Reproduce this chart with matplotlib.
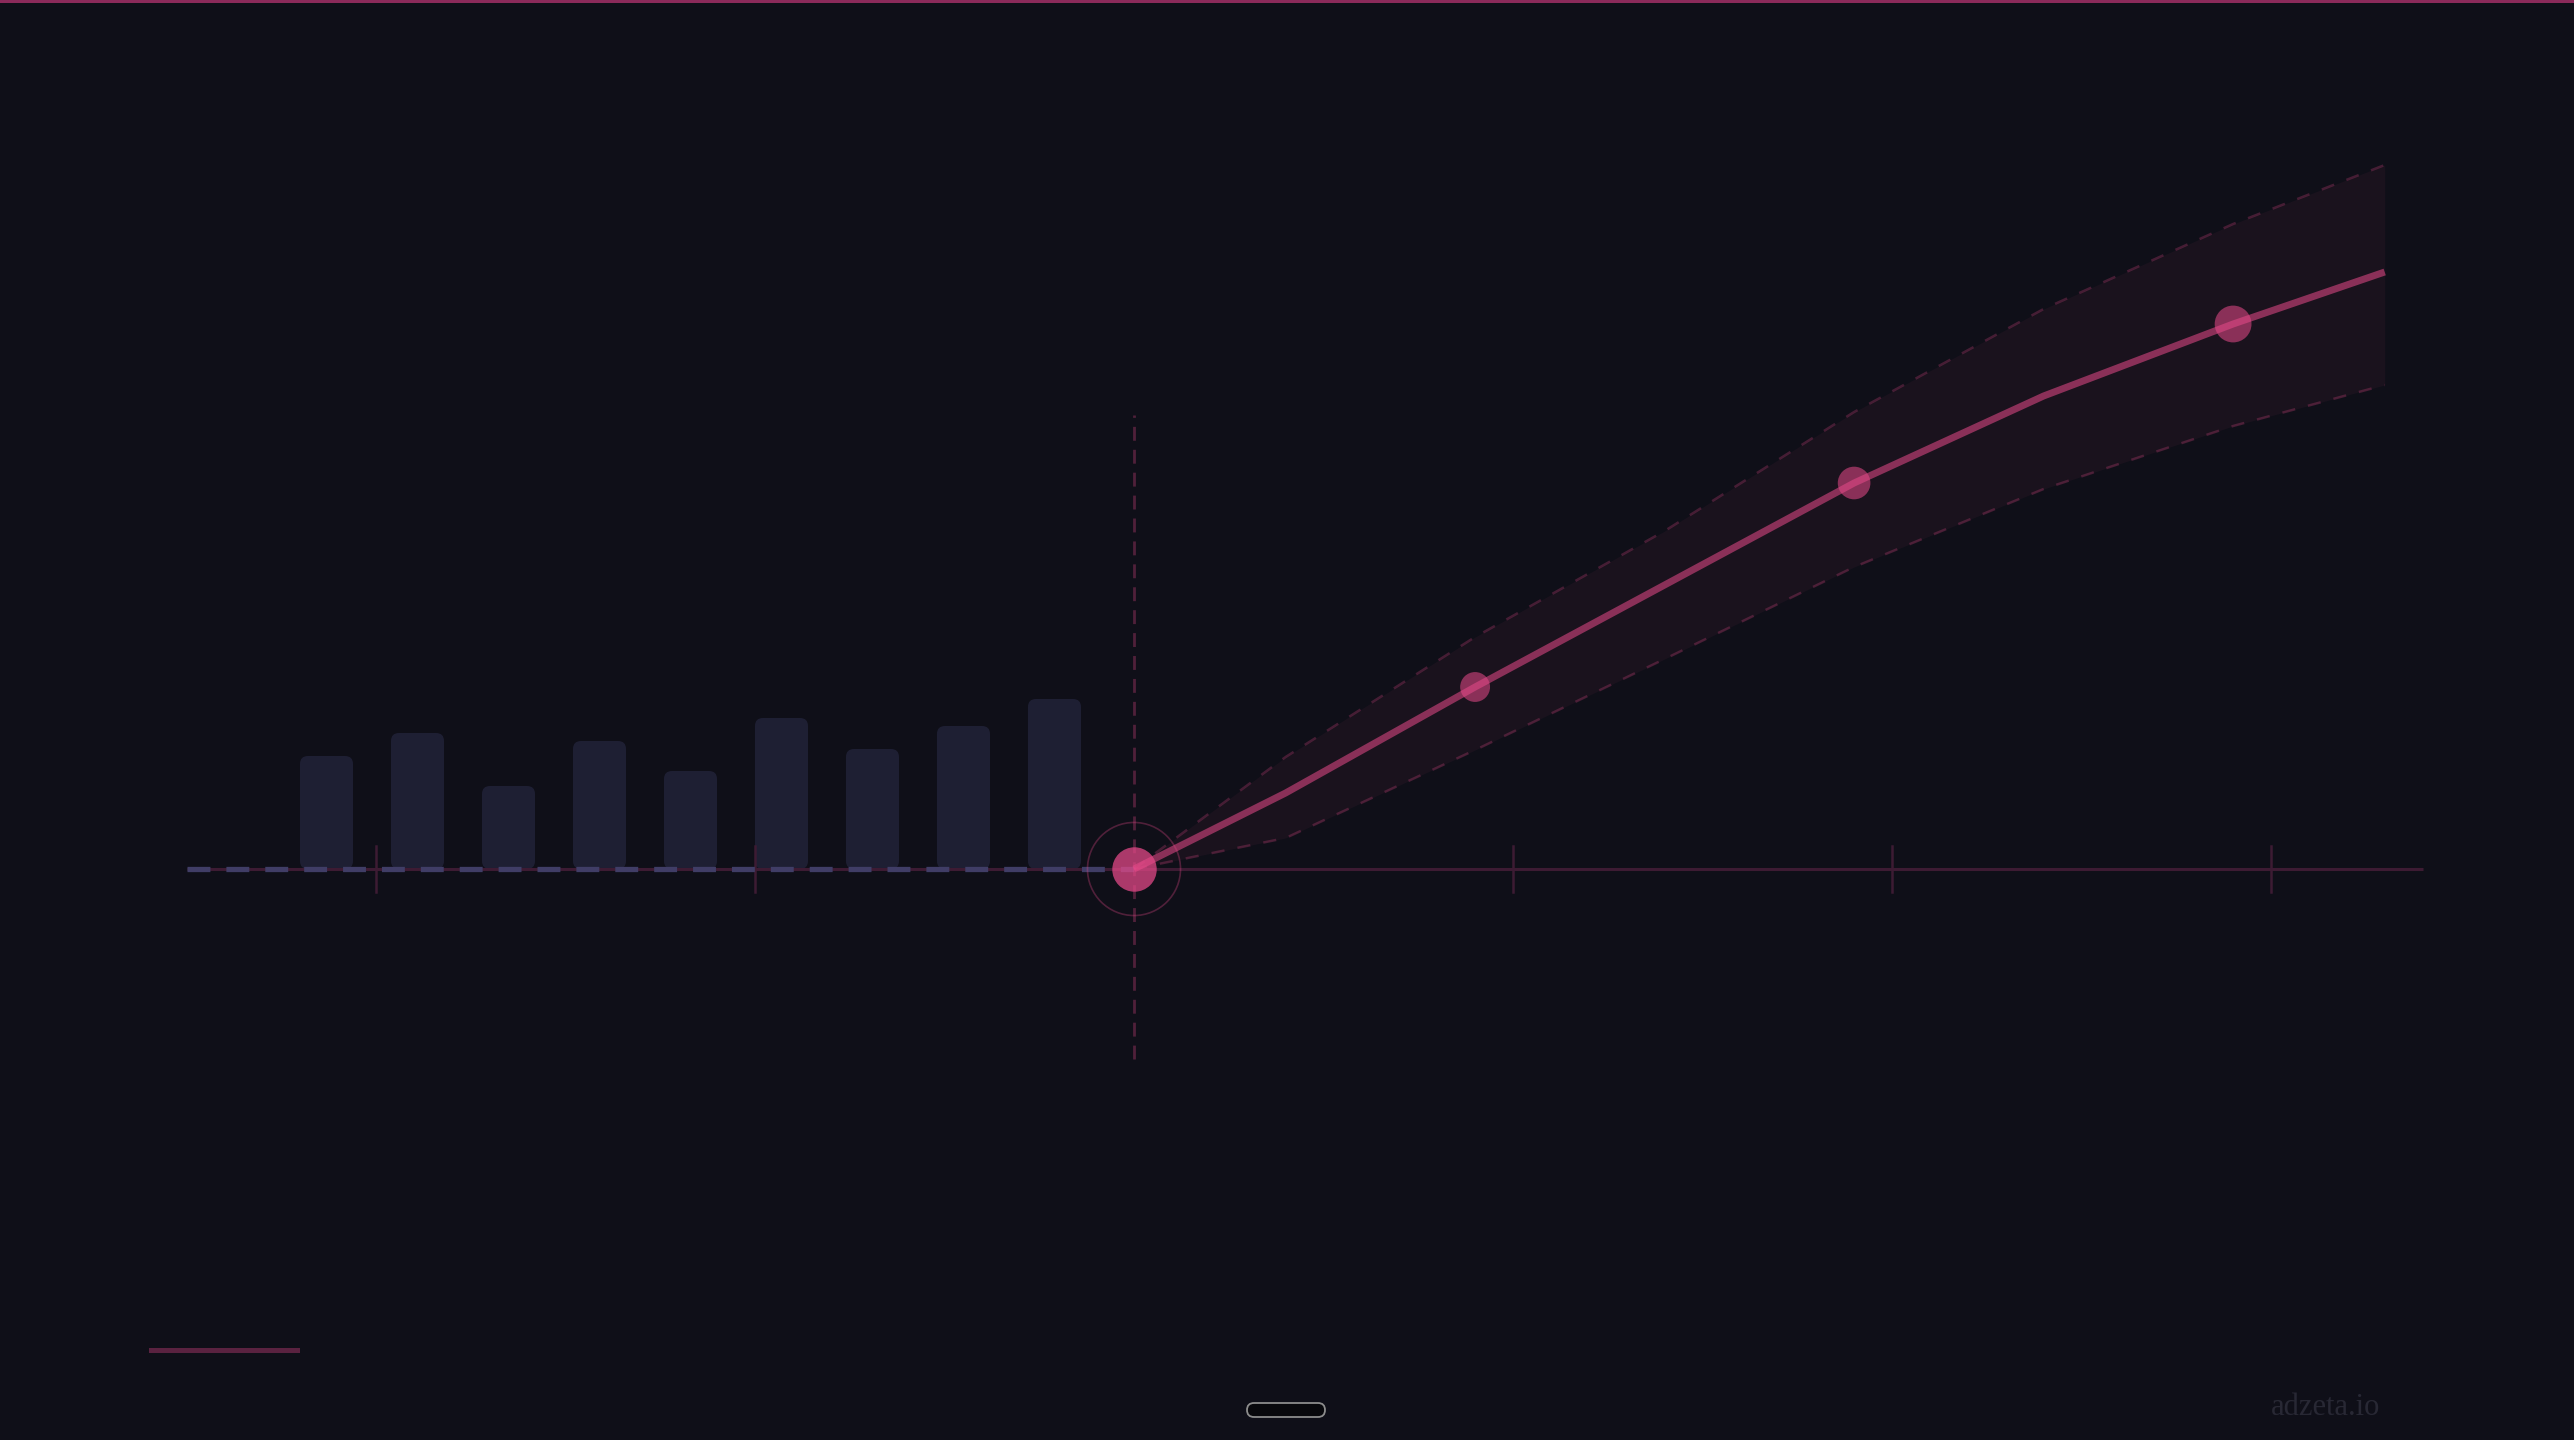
import matplotlib
matplotlib.use("Agg")
import matplotlib.pyplot as plt
from matplotlib.patches import FancyBboxPatch, Rectangle

plt.rcParams["lines.scale_dashes"] = False

# ---------------- data ----------------
hist_values = [1.13, 1.36, 0.83, 1.28, 0.98, 1.51, 1.20, 1.43, 1.70]
forecast_x = [0, 0.4, 0.9, 1.4, 1.9, 2.4, 2.9, 3.3]
forecast = [0, 0.76, 1.82, 2.84, 3.86, 4.73, 5.45, 5.97]
upper = [0, 1.12, 2.32, 3.38, 4.57, 5.60, 6.45, 7.04]
lower = [0, 0.31, 1.19, 2.10, 3.02, 3.80, 4.43, 4.84]
marker_x = [0.9, 1.9, 2.9]
marker_sizes = [21.5, 23.5, 26.5]
tick_positions = [-2, -1, 0, 1, 2, 3]
watermark = "adzeta.io"

# ---------------- layout / style ----------------
W, H, DPI = 2574, 1440, 100
X0, XSTEP = 1134, 379      # pixel of x=0, pixels per x unit
Y0, YSTEP = 869, 100       # pixel row of y=0, pixels per y unit
BG = "#0f0f18"
PINK = "#e84a8a"
BAR_COLOR = "#1e1f33"
AXIS_COLOR = "#3d1b33"
LAV = "#403d66"

BAR_START, BAR_STEP, BAR_W = -2.1306, 0.2401, 0.14
AX_LEFT, AX_RIGHT = -2.5, 3.4

fig = plt.figure(figsize=(W / DPI, H / DPI), dpi=DPI, facecolor=BG)
ax = fig.add_axes([0, 0, 1, 1])
ax.set_facecolor(BG)
ax.set_xlim(-X0 / XSTEP, (W - X0) / XSTEP)
ax.set_ylim(-(H - Y0) / YSTEP, Y0 / YSTEP)
ax.axis("off")

# historical bars (rounded)
r_x = 8 / XSTEP
aspect = (8 / YSTEP) / r_x
for i, v in enumerate(hist_values):
    xc = BAR_START + i * BAR_STEP
    p = FancyBboxPatch((xc - BAR_W / 2, 0), BAR_W, v,
                       boxstyle=f"round,pad=0,rounding_size={r_x}",
                       mutation_aspect=aspect, facecolor=BAR_COLOR,
                       edgecolor="none", zorder=1)
    ax.add_patch(p)

# baseline
ax.plot([AX_LEFT, AX_RIGHT], [0, 0], color=AXIS_COLOR, lw=2.2, zorder=2,
        solid_capstyle="butt")
ax.plot([AX_LEFT, 0], [0, 0], color=LAV, lw=3.8, dashes=(16.5, 11.5),
        zorder=3, dash_capstyle="butt")
for t in tick_positions:
    if t == 0:
        continue
    ax.plot([t, t], [-0.23, 0.23], color=AXIS_COLOR, lw=1.8, zorder=2)

# vertical "today" dashed line
ax.plot([0, 0], [-1.9, 4.54], color=PINK, alpha=0.3, lw=2.0,
        dashes=(10, 6.5), zorder=3)

# confidence band
ax.fill_between(forecast_x, lower, upper, color=PINK, alpha=0.05, lw=0, zorder=2)
ax.plot(forecast_x, upper, color=PINK, alpha=0.25, lw=1.8, dashes=(9.5, 9.5), zorder=3)
ax.plot(forecast_x, lower, color=PINK, alpha=0.25, lw=1.8, dashes=(9.5, 9.5), zorder=3)

# origin marker
ax.scatter([0], [0], s=67 ** 2, facecolors="none", edgecolors=PINK,
           alpha=0.3, linewidths=1.2, zorder=4)
ax.scatter([0], [0], s=32 ** 2, color=PINK, alpha=0.72, linewidths=0, zorder=4)

# forecast line
ax.plot(forecast_x, forecast, color=PINK, alpha=0.55, lw=5,
        solid_capstyle="butt", solid_joinstyle="round", zorder=5)
mvals = [forecast[forecast_x.index(x)] for x in marker_x]
ax.scatter(marker_x, mvals, s=[d ** 2 for d in marker_sizes], color=PINK,
           alpha=0.55, linewidths=0, zorder=6)

# ---------------- decorations ----------------
deco = fig.add_axes([0, 0, 1, 1], facecolor="none")
deco.set_xlim(0, W)
deco.set_ylim(H, 0)
deco.axis("off")
deco.add_patch(Rectangle((0, 0), W, 3, color="#8b2a5a", lw=0))
deco.add_patch(Rectangle((149, 1348), 151, 5, color="#5a2240", lw=0))
deco.add_patch(FancyBboxPatch((1247, 1403), 78, 14,
                              boxstyle="round,pad=0,rounding_size=7",
                              facecolor="#08080c", edgecolor="#8c8c8c", lw=1.3))
deco.text(2380, 1415, watermark, ha="right", va="baseline",
          family="Liberation Serif", fontsize=22, color="#282834")

fig.savefig("out.png", dpi=DPI, facecolor=BG)
